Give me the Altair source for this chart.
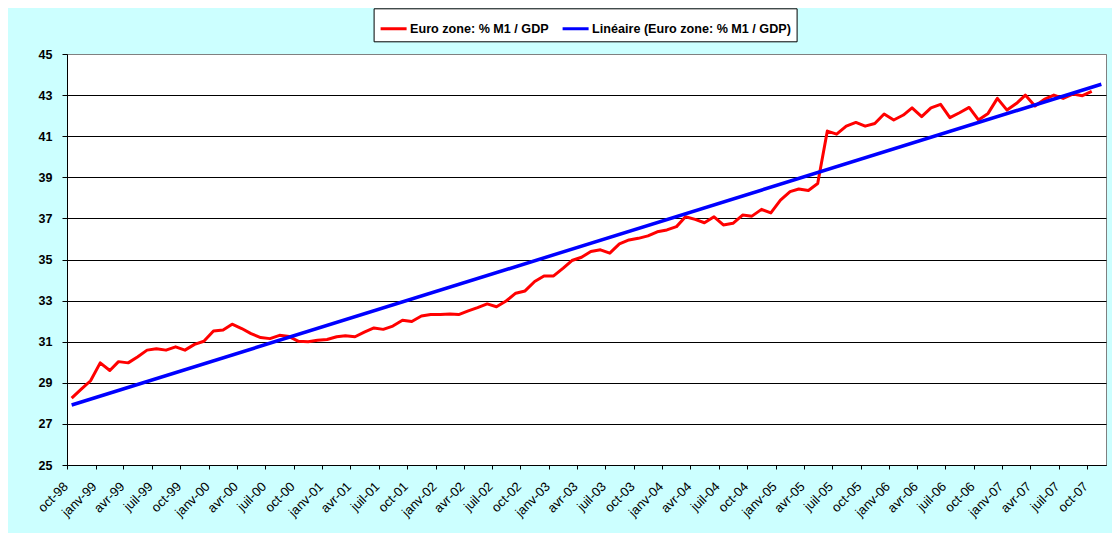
import json
import altair as alt
import pandas as pd

# ---------------- data ----------------
months_fr = ["janv", "févr", "mars", "avr", "mai", "juin",
             "juil", "août", "sept", "oct", "nov", "déc"]
series_names = ["Euro zone: % M1 / GDP", "Linéaire (Euro zone: % M1 / GDP)"]

first_month = "1998-10-01"          # first monthly observation (oct-98)
m1_gdp = [
    28.25, 28.69, 29.10, 29.97, 29.60, 30.03, 29.97, 30.26, 30.59, 30.66,
    30.59, 30.75, 30.59, 30.87, 31.02, 31.52, 31.57, 31.85, 31.64, 31.39,
    31.20, 31.15, 31.31, 31.25, 31.02, 31.00, 31.07, 31.11, 31.24, 31.29,
    31.24, 31.47, 31.67, 31.60, 31.76, 32.04, 31.98, 32.25, 32.32, 32.32,
    32.35, 32.32, 32.50, 32.66, 32.84, 32.70, 32.98, 33.36, 33.47, 33.93,
    34.20, 34.20, 34.58, 34.95, 35.11, 35.39, 35.47, 35.31, 35.76, 35.95,
    36.03, 36.15, 36.35, 36.44, 36.60, 37.08, 36.95, 36.79, 37.08, 36.68,
    36.76, 37.16, 37.11, 37.44, 37.27, 37.89, 38.30, 38.43, 38.36, 38.70,
    41.25, 41.10, 41.49, 41.67, 41.49, 41.62, 42.08, 41.79, 42.03, 42.38,
    41.95, 42.38, 42.55, 41.90, 42.14, 42.40, 41.79, 42.11, 42.84, 42.27,
    42.60, 43.00, 42.47, 42.79, 43.00, 42.84, 43.05, 42.97, 43.18,
]
trend_months = ["1998-10-01", "2007-11-01"]   # extent of the linear trend
trend_values = [27.92, 43.53]

axis_start = "1998-10-01"
axis_end = "2007-12-01"
y_ticks = [25, 27, 29, 31, 33, 35, 37, 39, 41, 43, 45]

# ---------------- tables ----------------
mid = pd.Timedelta(days=15)
dates = pd.date_range(first_month, periods=len(m1_gdp), freq="MS") + mid
df_m1 = pd.DataFrame({
    "date": dates.strftime("%Y-%m-%d"),
    "value": m1_gdp,
    "series": series_names[0],
})
df_trend = pd.DataFrame({
    "date": (pd.to_datetime(trend_months) + mid).strftime("%Y-%m-%d"),
    "value": trend_values,
    "series": series_names[1],
})


def ms(s):
    return int(pd.Timestamp(s, tz="UTC").value // 10**6)


quarter_ticks = [ms(t) for t in pd.date_range(axis_start, axis_end, freq="QS-OCT")]
quarter_ticks = [t for t in quarter_ticks if t < ms(axis_end)]

FONT = "Liberation Sans"
label_expr = (json.dumps(months_fr, ensure_ascii=False)
              + "[utcmonth(datum.value)] + '-' + utcFormat(datum.value, '%y')")

x_enc = alt.X(
    "date:T",
    scale=alt.Scale(type="utc", domain=[ms(axis_start), ms(axis_end)]),
    axis=alt.Axis(
        values=quarter_ticks,
        labelExpr=label_expr,
        labelAngle=315,
        labelAlign="right",
        labelBaseline="middle",
        labelPadding=15,
        labelOffset=-1.5,
        labelFontSize=13,
        labelFont=FONT,
        labelColor="black",
        labelOverlap=False,
        labelFlush=False,
        tickSize=4,
        tickColor="black",
        domainColor="black",
        grid=False,
        title=None,
    ),
)
y_enc = alt.Y(
    "value:Q",
    scale=alt.Scale(domain=[25, 45], nice=False, zero=False),
    axis=alt.Axis(
        values=y_ticks,
        labelFontSize=12.5,
        labelFontWeight="bold",
        labelFont=FONT,
        labelColor="black",
        labelPadding=10,
        tickSize=5,
        tickColor="black",
        domainColor="black",
        grid=True,
        gridColor={"condition": {"test": "datum.value === 45", "value": "#808080"},
                   "value": "black"},
        gridOpacity=1,
        gridWidth=1,
        title=None,
    ),
)
color_enc = alt.Color(
    "series:N",
    scale=alt.Scale(domain=series_names, range=["#FF0000", "#0000FF"]),
    legend=alt.Legend(
        title=None,
        orient="none",
        legendX=306.6,
        legendY=-45.7,
        direction="horizontal",
        symbolType="stroke",
        symbolSize=676,
        symbolStrokeWidth=3,
        labelFont=FONT,
        labelFontSize=12.6,
        labelFontWeight="bold",
        labelColor="black",
        labelOffset=2,
        labelLimit=400,
        columnPadding=7,
        padding=5.5,
        fillColor="white",
        strokeColor="black",
    ),
)

m1_line = alt.Chart(df_m1).mark_line(strokeWidth=3, strokeJoin="round").encode(
    x=x_enc, y=y_enc, color=color_enc
)
trend_line = alt.Chart(df_trend).mark_line(strokeWidth=3.5).encode(
    x=x_enc, y=y_enc, color=color_enc
)

chart = (
    alt.layer(m1_line, trend_line)
    .properties(
        width=1039,
        height=411,
        autosize=alt.AutoSizeParams(type="none"),
        padding={"left": 59, "top": 46, "right": 6, "bottom": 68},
    )
    .configure(background="#CCFFFF")
    .configure_view(stroke="#808080", strokeWidth=1, fill="white")
)

chart.save("out.html", embed_options={"renderer": "svg", "actions": False})
